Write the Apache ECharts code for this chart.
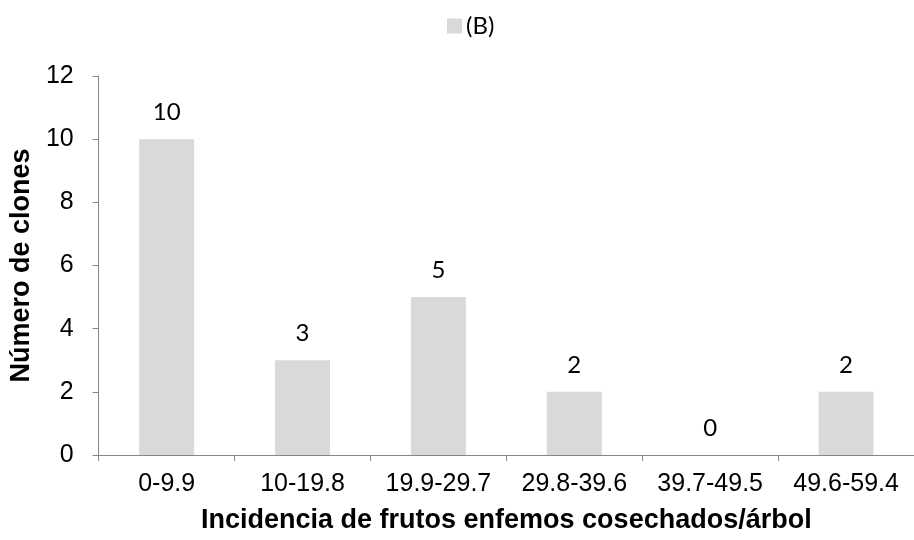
<!DOCTYPE html>
<html><head><meta charset="utf-8">
<script src="https://cdn.jsdelivr.net/npm/echarts@6/dist/echarts.min.js"></script>
<style>html,body{margin:0;padding:0;background:#fff}#c{width:914px;height:540px}</style>
</head><body><div id="c"></div>
<script>
const categories = ['0-9.9','10-19.8','19.9-29.7','29.8-39.6','39.7-49.5','49.6-59.4'];
const values = [10, 3, 5, 2, 0, 2];
const seriesName = '(B)';
const xTitle = 'Incidencia de frutos enfemos cosechados/árbol';
const yTitle = 'Número de clones';

const chart = echarts.init(document.getElementById('c'), null, {renderer:'canvas'});
chart.setOption({
  animation:false,
  backgroundColor:'#fff',
  legend:{
    top:9, left:442, itemWidth:15, itemHeight:15, itemGap:6,
    icon:'rect',
    textStyle:{fontFamily:'Lato, "Open Sans", sans-serif', fontSize:24, color:'#000', padding:[0,0,0,-1]},
    data:[seriesName]
  },
  grid:{left:97, top:76, right:-10, bottom:85, containLabel:false},
  xAxis:{
    type:'category', data:categories,
    axisLine:{lineStyle:{color:'#868686', width:1}},
    axisTick:{show:true, length:6, lineStyle:{color:'#868686'}},
    axisLabel:{color:'#000', fontFamily:'"Liberation Sans", Arial, sans-serif', fontSize:25, margin:17, interval:0},
    name:xTitle, nameLocation:'middle', nameGap:52,
    nameTextStyle:{color:'#000', fontFamily:'"Liberation Sans", Arial, sans-serif', fontSize:27, fontWeight:'bold'}
  },
  yAxis:{
    type:'value', min:0, max:12, interval:2,
    splitLine:{show:false},
    axisLine:{show:true, lineStyle:{color:'#868686', width:1}},
    axisTick:{show:true, length:6, lineStyle:{color:'#868686'}},
    axisLabel:{color:'#000', fontFamily:'"Liberation Sans", Arial, sans-serif', fontSize:25, margin:25},
    name:yTitle, nameLocation:'middle', nameGap:56,
    nameTextStyle:{color:'#000', fontFamily:'"Liberation Sans", Arial, sans-serif', fontSize:27, fontWeight:'bold'}
  },
  series:[{
    name:seriesName, type:'bar', data:values, barWidth:55,
    itemStyle:{color:'#d9d9d9'},
    label:{show:true, position:'top', distance:15, color:'#000', fontFamily:'Lato, "Open Sans", sans-serif', fontSize:24}
  }]
});
</script></body></html>
